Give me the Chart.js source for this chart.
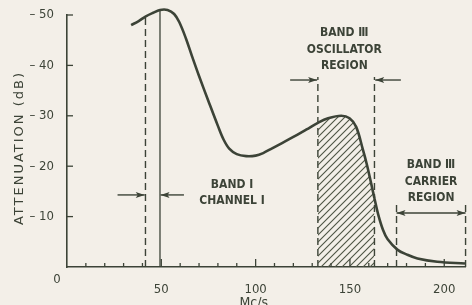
<!DOCTYPE html>
<html>
<head>
<meta charset="utf-8">
<script src="https://cdn.jsdelivr.net/npm/chart.js@4.4.0/dist/chart.umd.min.js"></script>
<style>
  html, body { margin: 0; padding: 0; background: #f3efe8; }
  #wrap { width: 472px; height: 305px; position: relative; }
</style>
</head>
<body>
<div id="wrap"><canvas id="chart"></canvas></div>
<script>
// filter response
const freqMc = [34, 38, 41.6, 45.4, 49.3, 53.3, 56.8, 59.5, 63, 66.3, 70, 75, 80, 83, 86, 90, 95, 100, 104, 108, 113, 120, 127, 133, 138.4, 145.4, 149.8, 153.3, 156.8, 159, 161, 163, 165, 167.5, 170, 175.3, 180, 185.8, 196.3, 211];
const attenDb = [48.0, 48.8, 49.7, 50.4, 51.0, 51.0, 50.2, 48.6, 45.4, 41.8, 37.9, 32.9, 28.0, 25.3, 23.5, 22.4, 22.0, 22.1, 22.6, 23.4, 24.4, 25.8, 27.3, 28.6, 29.5, 30.0, 29.5, 27.8, 23.4, 20.3, 17.0, 13.6, 10.4, 7.4, 5.5, 3.4, 2.5, 1.7, 1.05, 0.7];

const xLabels = [50, 100, 150, 200];
const yLabels = [10, 20, 30, 40, 50];

// band edges (Mc/s) and how high the marker lines reach (dB)
const OSC_LO = 133, OSC_HI = 163;
const dashX = [41.6, 133, 163, 174.7, 211.3];
const dashTop = [49.6, 37.7, 37.7, 12.3, 12.3];
const channelX = 49.3, channelTop = 51.0;

// arrows: from, to, level (dB); last flag = double headed
const arrowFrom = [26.8, 62, 118.3, 177, 174.7];
const arrowTo = [41.2, 49.6, 132.6, 163.4, 211.3];
const arrowDb = [14.3, 14.3, 37.1, 37.1, 10.7];
const arrowBoth = [false, false, false, false, true];

const noteLines = [['BAND Ⅰ', 'CHANNEL Ⅰ'], ['BAND Ⅲ', 'OSCILLATOR', 'REGION'], ['BAND Ⅲ', 'CARRIER', 'REGION']];
const noteX = [87.5, 147, 193];
const noteDb = [16.3, 46.4, 20.2];

const ink = '#3c4337';
const fam = '"DejaVu Sans Condensed", "DejaVu Sans", sans-serif';

function makeHatch() {
  const c = document.createElement('canvas');
  c.width = 7; c.height = 7;
  const g = c.getContext('2d');
  g.strokeStyle = '#4d5444';
  g.lineWidth = 1.1;
  g.beginPath();
  g.moveTo(-1, 8); g.lineTo(8, -1);
  g.moveTo(-1, 1); g.lineTo(1, -1);
  g.moveTo(6, 8); g.lineTo(8, 6);
  g.stroke();
  return document.createElement('canvas').getContext('2d').createPattern(c, 'repeat');
}
const hatch = makeHatch();

function head(ctx, tx, ty, dir) {
  ctx.beginPath();
  ctx.moveTo(tx, ty);
  ctx.lineTo(tx - dir * 9, ty - 3);
  ctx.lineTo(tx - dir * 7, ty);
  ctx.lineTo(tx - dir * 9, ty + 3);
  ctx.closePath();
  ctx.fill();
}

const extras = {
  id: 'extras',
  afterDatasetsDraw(chart) {
    const { ctx, scales: { x, y }, chartArea: a } = chart;
    ctx.save();
    ctx.strokeStyle = ink;
    ctx.fillStyle = ink;
    ctx.lineWidth = 1.3;

    // tick marks point inward
    x.ticks.forEach(t => {
      if (t.value % 10 !== 0 || t.value === 0) return;
      const px = x.getPixelForValue(t.value);
      const len = t.value % 50 === 0 ? 8 : 4;
      ctx.beginPath(); ctx.moveTo(px, a.bottom); ctx.lineTo(px, a.bottom - len); ctx.stroke();
    });
    yLabels.forEach(v => {
      const py = y.getPixelForValue(v);
      ctx.beginPath(); ctx.moveTo(a.left, py); ctx.lineTo(a.left + 6, py); ctx.stroke();
    });

    // arrows
    ctx.lineWidth = 1.4;
    arrowFrom.forEach((f, i) => {
      const x1 = x.getPixelForValue(f), x2 = x.getPixelForValue(arrowTo[i]);
      const py = y.getPixelForValue(arrowDb[i]);
      ctx.beginPath(); ctx.moveTo(x1, py); ctx.lineTo(x2, py); ctx.stroke();
      head(ctx, x2, py, Math.sign(x2 - x1));
      if (arrowBoth[i]) head(ctx, x1, py, Math.sign(x1 - x2));
    });

    // region notes
    ctx.font = 'bold 12px ' + fam;
    ctx.textAlign = 'center';
    ctx.textBaseline = 'middle';
    noteLines.forEach((lines, i) => {
      const px = x.getPixelForValue(noteX[i]);
      const py = y.getPixelForValue(noteDb[i]);
      lines.forEach((s, k) => ctx.fillText(s, px, py + k * 16.5));
    });

    // corner zero, axis titles
    ctx.font = '13px ' + fam;
    ctx.fillText('0', a.left - 10, 280);
    ctx.font = '14px ' + fam;
    ctx.textBaseline = 'top';
    ctx.fillText('Mc/s', x.getPixelForValue(99), 296);

    ctx.translate(20, 148);
    ctx.rotate(-Math.PI / 2);
    ctx.font = '13px "DejaVu Sans", sans-serif';
    ctx.letterSpacing = '2px';
    ctx.textBaseline = 'middle';
    ctx.fillText('ATTENUATION (dB)', 0, 0);
    ctx.restore();
  }
};

const markerSets = dashX.map((fx, i) => ({
  data: [{ x: fx, y: 0 }, { x: fx, y: dashTop[i] }],
  borderColor: ink, borderWidth: 1.4, borderDash: [7, 4],
  pointRadius: 0, fill: false, clip: false
}));
markerSets.push({
  data: [{ x: channelX, y: 0 }, { x: channelX, y: channelTop }],
  borderColor: ink, borderWidth: 1.3, pointRadius: 0, fill: false, clip: false
});

new Chart(document.getElementById('chart'), {
  type: 'line',
  data: {
    datasets: [{
      data: freqMc.map((f, i) => ({ x: f, y: attenDb[i] })),
      borderColor: ink,
      borderWidth: 2.6,
      pointRadius: 0,
      tension: 0.35,
      fill: 'origin',
      backgroundColor: 'rgba(0,0,0,0)',
      segment: {
        backgroundColor: c => (c.p0.parsed.x >= OSC_LO && c.p1.parsed.x <= OSC_HI) ? hatch : 'rgba(0,0,0,0)'
      },
      clip: false
    }, ...markerSets]
  },
  options: {
    responsive: true,
    maintainAspectRatio: false,
    animation: false,
    layout: { padding: { top: 15, right: 3, left: 0, bottom: 0 } },
    plugins: { legend: { display: false }, tooltip: { enabled: false } },
    scales: {
      x: {
        type: 'linear', min: 0, max: 211,
        grid: { display: false },
        border: { color: ink, width: 1.6 },
        ticks: {
          stepSize: 10, autoSkip: false, maxRotation: 0, padding: 7,
          color: ink, font: { family: fam, size: 13 },
          callback: v => xLabels.includes(v) ? String(v) : ''
        },
        afterFit: s => { s.height = 38; }
      },
      y: {
        min: 0, max: 50,
        grid: { display: false },
        border: { color: ink, width: 1.6 },
        ticks: {
          stepSize: 10, padding: 5,
          color: ink, font: { family: fam, size: 13 },
          callback: v => yLabels.includes(v) ? '– ' + v : ''
        },
        afterFit: s => { s.width = 67; }
      }
    }
  },
  plugins: [extras]
});
</script>
</body>
</html>
